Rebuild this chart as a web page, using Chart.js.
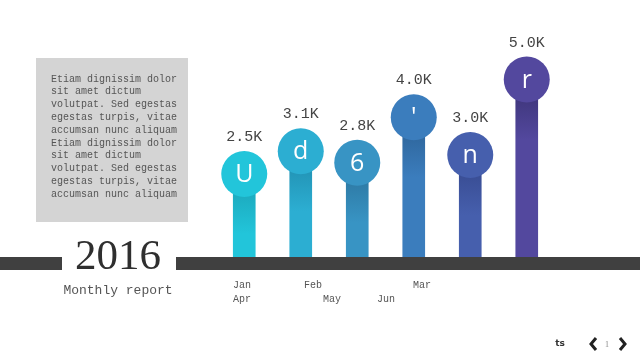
<!DOCTYPE html>
<html>
<head>
<meta charset="utf-8">
<script src="https://cdn.jsdelivr.net/npm/chart.js@4.4.0/dist/chart.umd.min.js"></script>
<style>
  html, body { margin: 0; padding: 0; background: #fff; }
  #wrap { width: 640px; height: 360px; position: relative; }
</style>
</head>
<body>
<div id="wrap"><canvas id="slideChart"></canvas></div>
<script>
const months = ['Jan', 'Feb', 'Mar', 'Apr', 'May', 'Jun'];
const sales = [2.5, 3.1, 2.8, 4.0, 3.0, 5.0];
const valueLabels = ['2.5K', '3.1K', '2.8K', '4.0K', '3.0K', '5.0K'];
const icons = ['U', 'd', '6', "'", 'n', 'r'];
const barColors = ['#22c5da', '#2caed2', '#3894c4', '#3b7dbd', '#465fad', '#53489e'];
const shadeColors = ['#1a9fb3', '#1f8aab', '#2a7099', '#2b5f92', '#34468a', '#383070'];
const bodyLines = [
  'Etiam dignissim dolor', 'sit amet dictum', 'volutpat. Sed egestas',
  'egestas turpis, vitae', 'accumsan nunc aliquam',
  'Etiam dignissim dolor', 'sit amet dictum', 'volutpat. Sed egestas',
  'egestas turpis, vitae', 'accumsan nunc aliquam'
];

const mono = '"Liberation Mono", monospace';

// slide decoration: text box, year, band, month labels, pager
const slideDeco = {
  id: 'slideDeco',
  beforeDraw(chart) {
    const c = chart.ctx;
    c.save();
    c.fillStyle = '#d4d4d4';
    c.fillRect(36, 58, 152, 164);
    c.fillStyle = '#555';
    c.font = '10px ' + mono;
    c.textBaseline = 'middle';
    bodyLines.forEach((t, i) => c.fillText(t, 51, 79 + i * 12.8));
    c.restore();
  },
  afterDatasetsDraw(chart) {
    const c = chart.ctx;
    c.save();
    c.fillStyle = '#404040';
    c.fillRect(0, 257, 62, 13);
    c.fillRect(176, 257, 464, 13);
    c.fillStyle = '#2f2f2f';
    c.font = '43px "Liberation Serif", serif';
    c.textAlign = 'center';
    c.textBaseline = 'middle';
    c.fillText('2016', 118, 258);
    c.fillStyle = '#555';
    c.font = '13px ' + mono;
    c.fillText('Monthly report', 118, 291);
    // month labels (two rows)
    const spots = [[242, 285], [313, 285], [422, 285], [242, 299], [332, 299], [386, 299]];
    c.font = '10px ' + mono;
    months.forEach((m, i) => c.fillText(m, spots[i][0], spots[i][1]));
    // pager
    c.fillStyle = '#333';
    c.font = 'bold 9px "DejaVu Sans", sans-serif';
    c.fillText('ts', 560, 344);
    c.fillStyle = '#888';
    c.font = '8px "Liberation Serif", serif';
    c.fillText('1', 607, 345);
    c.strokeStyle = '#222';
    c.lineWidth = 3;
    c.beginPath();
    c.moveTo(596, 338); c.lineTo(591, 344); c.lineTo(596, 350);
    c.moveTo(620, 338); c.lineTo(625, 344); c.lineTo(620, 350);
    c.stroke();
    c.restore();
  },
  afterDraw(chart) {
    const c = chart.ctx;
    const meta = chart.getDatasetMeta(1);
    c.save();
    c.textAlign = 'center';
    c.textBaseline = 'middle';
    meta.data.forEach((pt, i) => {
      c.fillStyle = '#fff';
      c.font = '25px "Open Sans", sans-serif';
      c.fillText(icons[i], pt.x, pt.y + 1);
      c.fillStyle = '#444';
      c.font = '15px ' + mono;
      c.fillText(valueLabels[i], pt.x, pt.y - 37);
    });
    c.restore();
  }
};

new Chart(document.getElementById('slideChart'), {
  data: {
    labels: months,
    datasets: [
      {
        type: 'bar',
        data: sales,
        barThickness: 22,
        order: 2,
        backgroundColor(ctx) {
          const chart = ctx.chart;
          if (!chart.chartArea) return barColors[ctx.dataIndex];
          const y = chart.scales.y.getPixelForValue(sales[ctx.dataIndex]);
          const g = chart.ctx.createLinearGradient(0, y, 0, y + 60);
          g.addColorStop(0, shadeColors[ctx.dataIndex]);
          g.addColorStop(1, barColors[ctx.dataIndex]);
          return g;
        }
      },
      {
        type: 'line',
        data: sales,
        showLine: false,
        order: 1,
        pointRadius: 23,
        pointHoverRadius: 23,
        pointBorderWidth: 0,
        pointBackgroundColor: barColors,
        pointBorderColor: barColors
      }
    ]
  },
  options: {
    responsive: true,
    maintainAspectRatio: false,
    animation: false,
    events: [],
    layout: { padding: { left: 216, right: 85, top: 20, bottom: 103 } },
    plugins: { legend: { display: false }, tooltip: { enabled: false } },
    scales: {
      x: { display: false, offset: true },
      y: { display: false, min: 0.3, max: 6.5 }
    }
  },
  plugins: [slideDeco]
});
</script>
</body>
</html>
